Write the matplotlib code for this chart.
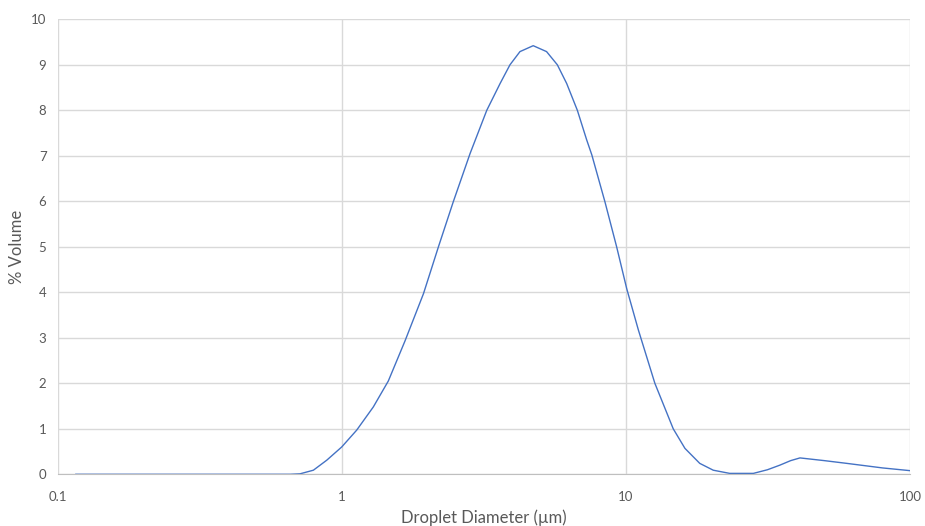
import matplotlib
matplotlib.use("Agg")
import matplotlib.pyplot as plt
from matplotlib.ticker import FixedLocator, NullLocator

# droplet size distribution
diameter_um = [0.116, 0.3, 0.5, 0.658, 0.713, 0.795, 0.886, 1.0, 1.129, 1.292, 1.459,
               1.67, 1.94, 2.19, 2.47, 2.83, 3.24, 3.61, 3.91, 4.24, 4.72, 5.26, 5.74,
               6.19, 6.75, 7.28, 7.59, 8.44, 9.28, 10.07, 11.07, 12.65, 14.68, 16.14,
               18.2, 20.3, 23.2, 28.1, 31.5, 34.8, 38.0, 41.0, 50.0, 59.9, 80.0, 100.0]
volume_pct = [0.0, 0.0, 0.0, 0.0, 0.01, 0.09, 0.31, 0.60, 0.97, 1.48, 2.05,
              2.93, 3.97, 5.0, 5.99, 7.05, 8.0, 8.59, 9.0, 9.29, 9.42, 9.29, 9.0,
              8.59, 8.0, 7.35, 7.02, 5.99, 5.0, 4.08, 3.17, 2.0, 1.0, 0.57,
              0.24, 0.09, 0.02, 0.02, 0.10, 0.20, 0.30, 0.36, 0.30, 0.24, 0.14, 0.08]

x_ticks = [0.1, 1, 10, 100]
x_labels = ["0.1", "1", "10", "100"]
y_ticks = list(range(0, 11))

plt.rcParams["font.family"] = ["Lato", "DejaVu Sans"]

fig = plt.figure(figsize=(9.25, 5.26), dpi=100)
ax = fig.add_axes([0.0622, 0.0983, 0.9216, 0.865])

ax.plot(diameter_um, volume_pct, color="#4472C4", lw=1.0)

ax.set_xscale("log")
ax.set_xlim(0.1, 100)
ax.set_ylim(0, 10)
ax.xaxis.set_major_locator(FixedLocator(x_ticks))
ax.xaxis.set_minor_locator(NullLocator())
ax.set_xticks(x_ticks, x_labels)
ax.set_yticks(y_ticks)

ax.grid(True, color="#d9d9d9", lw=1.0)
ax.set_axisbelow(True)
for side in ["top", "right", "left"]:
    ax.spines[side].set_visible(False)
ax.spines["bottom"].set_color("#bfbfbf")
ax.tick_params(length=0, labelsize=9.5, colors="#595959")
ax.tick_params(axis="x", pad=12)
ax.tick_params(axis="y", pad=8)

ax.set_xlabel("Droplet Diameter (µm)", fontsize=12, color="#595959", labelpad=5)
ax.set_ylabel("% Volume", fontsize=12, color="#595959", labelpad=4)

fig.savefig("out.png", dpi=100)
